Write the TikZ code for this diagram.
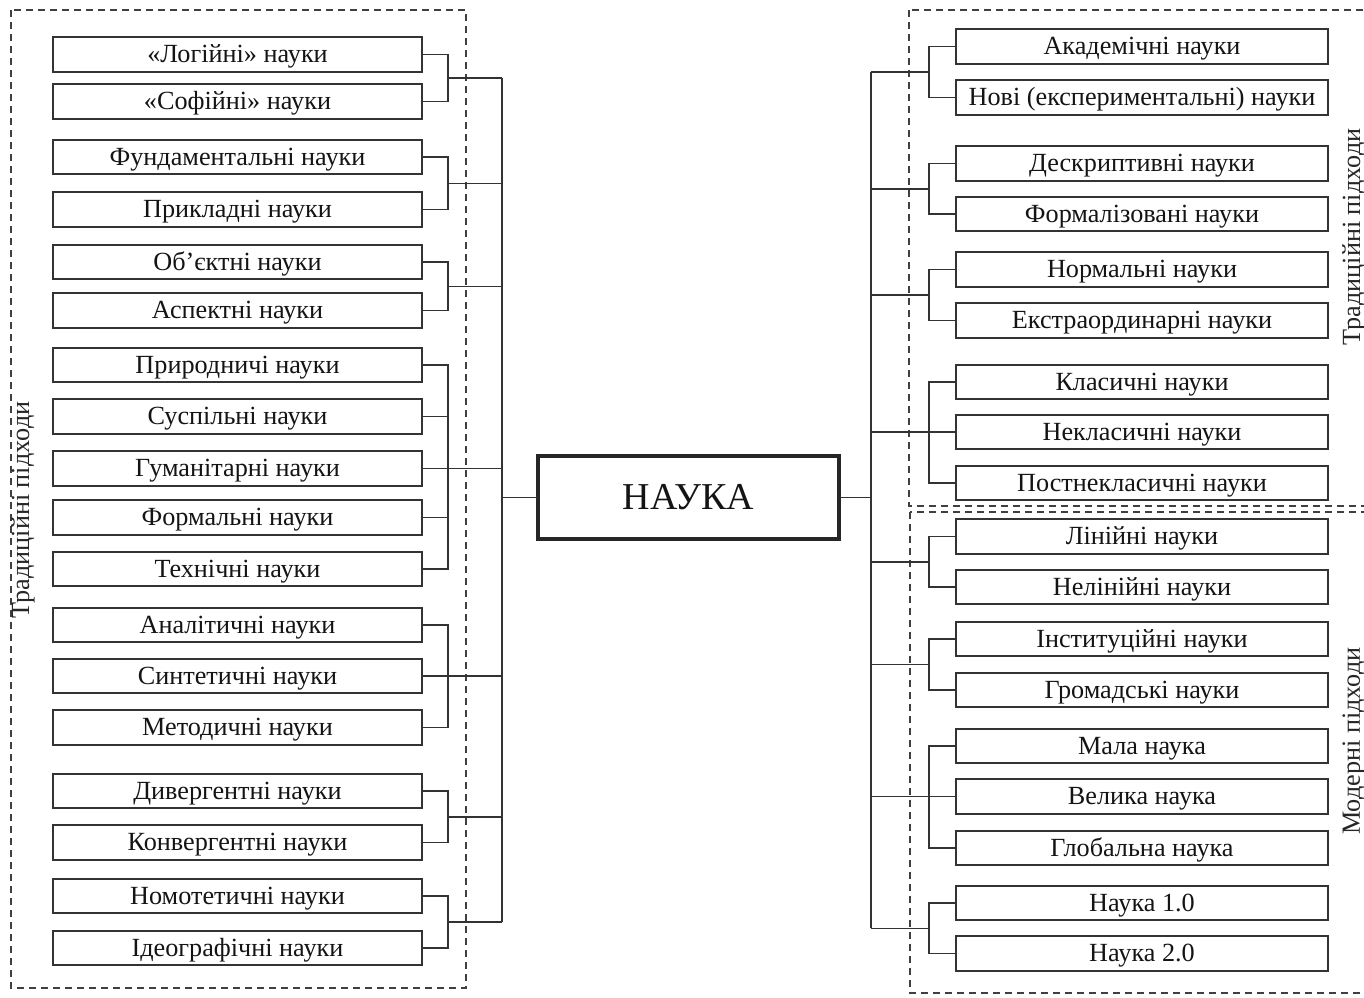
\documentclass[tikz,border=0pt]{standalone}
\usepackage{fontspec}
\setmainfont{Liberation Serif}
\usetikzlibrary{calc}
\begin{document}
\begin{tikzpicture}[x=0.5pt,y=-0.5pt,
 box/.style={draw=black!80, line width=0.9pt, minimum width=184.5pt, minimum height=17.3pt, inner sep=0pt, outer sep=0pt, text height=8.4pt, text depth=0pt, text=black!92, font=\fontsize{13.1}{15}\selectfont},
 rbox/.style={box, minimum width=186pt},
 centre/.style={draw=black!85, line width=2pt, minimum width=150.5pt, minimum height=41.5pt, inner sep=0pt, outer sep=0pt, text height=12.4pt, text depth=0pt, text=black!92, font=\fontsize{19}{22}\selectfont},
 link/.style={draw=black!80, line width=0.75pt},
 frame/.style={draw=black!75, line width=0.6pt, dash pattern=on 3.5pt off 2.5pt},
 side/.style={rotate=90, inner sep=0pt, text=black!85, font=\fontsize{13.1}{15}\selectfont}]
\useasboundingbox (0,0) rectangle (1364,997);
\fill[white] (0,0) rectangle (1364,997);

% dashed frames
\draw[frame] (11,10) rectangle (466,988);
\draw[frame] (909,10) rectangle (1372,506);
\draw[frame] (910,512) rectangle (1372,993);

% side labels
\node[side] (sL) at (23,510) {Традиційні підходи};
\node[side] (sR1) at (1354,237) {Традиційні підходи};
\node[side] (sR2) at (1354,741) {Модерні підходи};

% centre
\node[centre] (N) at (688.5,497.5) {НАУКА};

% left boxes
\node[box] (L1) at (237.5,54.5) {«Логійні» науки};
\node[box] (L2) at (237.5,101.5) {«Софійні» науки};
\node[box] (L3) at (237.5,157) {Фундаментальні науки};
\node[box] (L4) at (237.5,209.5) {Прикладні науки};
\node[box] (L5) at (237.5,262) {Об’єктні науки};
\node[box] (L6) at (237.5,310.5) {Аспектні науки};
\node[box] (L7) at (237.5,365) {Природничі науки};
\node[box] (L8) at (237.5,416.5) {Суспільні науки};
\node[box] (L9) at (237.5,468.5) {Гуманітарні науки};
\node[box] (L10) at (237.5,517.5) {Формальні науки};
\node[box] (L11) at (237.5,569) {Технічні науки};
\node[box] (L12) at (237.5,625) {Аналітичні науки};
\node[box] (L13) at (237.5,676) {Синтетичні науки};
\node[box] (L14) at (237.5,727.5) {Методичні науки};
\node[box] (L15) at (237.5,791) {Дивергентні науки};
\node[box] (L16) at (237.5,842.5) {Конвергентні науки};
\node[box] (L17) at (237.5,896) {Номотетичні науки};
\node[box] (L18) at (237.5,948) {Ідеографічні науки};

% right boxes
\node[rbox] (R1) at (1142,46.5) {Академічні науки};
\node[rbox] (R2) at (1142,97.5) {Нові (експериментальні) науки};
\node[rbox] (R3) at (1142,163.5) {Дескриптивні науки};
\node[rbox] (R4) at (1142,214) {Формалізовані науки};
\node[rbox] (R5) at (1142,269.5) {Нормальні науки};
\node[rbox] (R6) at (1142,320.5) {Екстраординарні науки};
\node[rbox] (R7) at (1142,382) {Класичні науки};
\node[rbox] (R8) at (1142,432) {Некласичні науки};
\node[rbox] (R9) at (1142,483) {Постнекласичні науки};
\node[rbox] (R10) at (1142,536.5) {Лінійні науки};
\node[rbox] (R11) at (1142,587) {Нелінійні науки};
\node[rbox] (R12) at (1142,639) {Інституційні науки};
\node[rbox] (R13) at (1142,690) {Громадські науки};
\node[rbox] (R14) at (1142,746) {Мала наука};
\node[rbox] (R15) at (1142,796.5) {Велика наука};
\node[rbox] (R16) at (1142,848) {Глобальна наука};
\node[rbox] (R17) at (1142,903) {Наука 1.0};
\node[rbox] (R18) at (1142,953.5) {Наука 2.0};

% reference coordinates
\coordinate (bxL) at (448,0);
\coordinate (busL) at (502,0);
\coordinate (bxR) at (929,0);
\coordinate (busR) at (871,0);

% left pairs
\foreach \a/\b/\g in {L1/L2/g1,L3/L4/g2,L5/L6/g3,L15/L16/g6,L17/L18/g7}{
  \draw[link] (\a.east) -- (\a.east -| bxL) |- (\b.east);
  \coordinate (\g) at ($(\a.east -| bxL)!0.5!(\b.east -| bxL)$);
  \draw[link] (\g) -- (\g -| busL);
}
% left group of five
\draw[link] (L7.east) -- (L7.east -| bxL) |- (L11.east);
\draw[link] (L8.east) -- (L8.east -| bxL);
\draw[link] (L10.east) -- (L10.east -| bxL);
\draw[link] (L9.east) -- (L9.east -| busL);
% left group of three
\draw[link] (L12.east) -- (L12.east -| bxL) |- (L14.east);
\draw[link] (L13.east) -- (L13.east -| busL);
% left bus
\draw[link] (g1 -| busL) -- (g7 -| busL);
\draw[link] (N.west) -- (N.west -| busL);

% right pairs
\foreach \a/\b/\g in {R1/R2/h1,R3/R4/h2,R5/R6/h3,R10/R11/h5,R12/R13/h6,R17/R18/h8}{
  \draw[link] (\a.west) -- (\a.west -| bxR) |- (\b.west);
  \coordinate (\g) at ($(\a.west -| bxR)!0.5!(\b.west -| bxR)$);
  \draw[link] (\g) -- (\g -| busR);
}
% right groups of three
\draw[link] (R7.west) -- (R7.west -| bxR) |- (R9.west);
\draw[link] (R8.west) -- (R8.west -| busR);
\draw[link] (R14.west) -- (R14.west -| bxR) |- (R16.west);
\draw[link] (R15.west) -- (R15.west -| busR);
% right bus
\draw[link] (h1 -| busR) -- (h8 -| busR);
\draw[link] (N.east) -- (N.east -| busR);
\end{tikzpicture}
\end{document}
